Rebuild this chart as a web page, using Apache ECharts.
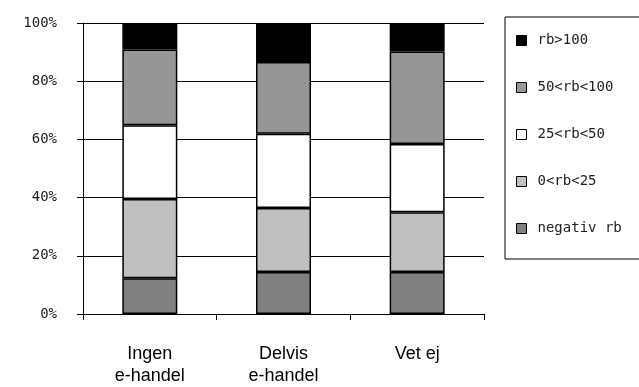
<!DOCTYPE html>
<html>
<head>
<meta charset="utf-8">
<script src="https://cdn.jsdelivr.net/npm/echarts@6/dist/echarts.min.js"></script>
<style>html,body{margin:0;padding:0;background:#fff;}#c{width:639px;height:387px;}</style>
</head>
<body>
<div id="c"></div>
<script>
var categories = ['Ingen\ne-handel', 'Delvis\ne-handel', 'Vet ej'];
var yTicks = [0, 20, 40, 60, 80, 100];
var seriesNames = ['negativ rb', '0<rb<25', '25<rb<50', '50<rb<100', 'rb>100'];
var negativ = [12.3, 14.4, 14.4];
var rb0_25 = [27.2, 22.0, 20.6];
var rb25_50 = [25.4, 25.5, 23.4];
var rb50_100 = [26.0, 24.7, 31.8];
var rbOver100 = [9.1, 13.4, 9.8];
var colors = ['#808080', '#c0c0c0', '#ffffff', '#969696', '#000000'];

var values = [negativ, rb0_25, rb25_50, rb50_100, rbOver100];
var chart = echarts.init(document.getElementById('c'), null, {renderer: 'canvas'});
var series = seriesNames.map(function (n, i) {
  return {
    name: n,
    type: 'bar',
    stack: 'total',
    barWidth: 55,
    data: values[i],
    itemStyle: {color: colors[i], borderColor: '#000', borderWidth: 1.5},
    emphasis: {disabled: true}
  };
});
chart.setOption({
  animation: false,
  backgroundColor: '#fff',
  grid: {left: 83, right: 155, top: 23, bottom: 68, containLabel: false},
  legend: {
    orient: 'vertical',
    left: 505,
    top: 17,
    data: seriesNames.slice().reverse(),
    icon: 'rect',
    itemWidth: 10,
    itemHeight: 10,
    itemGap: 32,
    padding: [16, 60, 23, 11],
    borderColor: '#000',
    borderWidth: 1,
    textStyle: {fontFamily: 'DejaVu Sans Mono', fontSize: 14, lineHeight: 15, color: '#222', padding: [0, 0, 0, 6]},
    itemStyle: {borderColor: '#000', borderWidth: 1}
  },
  xAxis: {
    type: 'category',
    data: categories,
    axisLine: {show: true, lineStyle: {color: '#000', width: 1}},
    axisTick: {show: true, length: 6, lineStyle: {color: '#000'}},
    axisLabel: {fontFamily: 'Liberation Sans', fontSize: 18, lineHeight: 22, color: '#000', margin: 29}
  },
  yAxis: {
    type: 'value',
    min: yTicks[0],
    max: yTicks[yTicks.length - 1],
    interval: 20,
    axisLine: {show: true, lineStyle: {color: '#000', width: 1}},
    axisTick: {show: true, length: 6, lineStyle: {color: '#000'}},
    splitLine: {show: true, lineStyle: {color: '#000', width: 1}},
    axisLabel: {formatter: '{value}%', fontFamily: 'DejaVu Sans Mono', fontSize: 14, color: '#222', margin: 26}
  },
  series: series
});
</script>
</body>
</html>
